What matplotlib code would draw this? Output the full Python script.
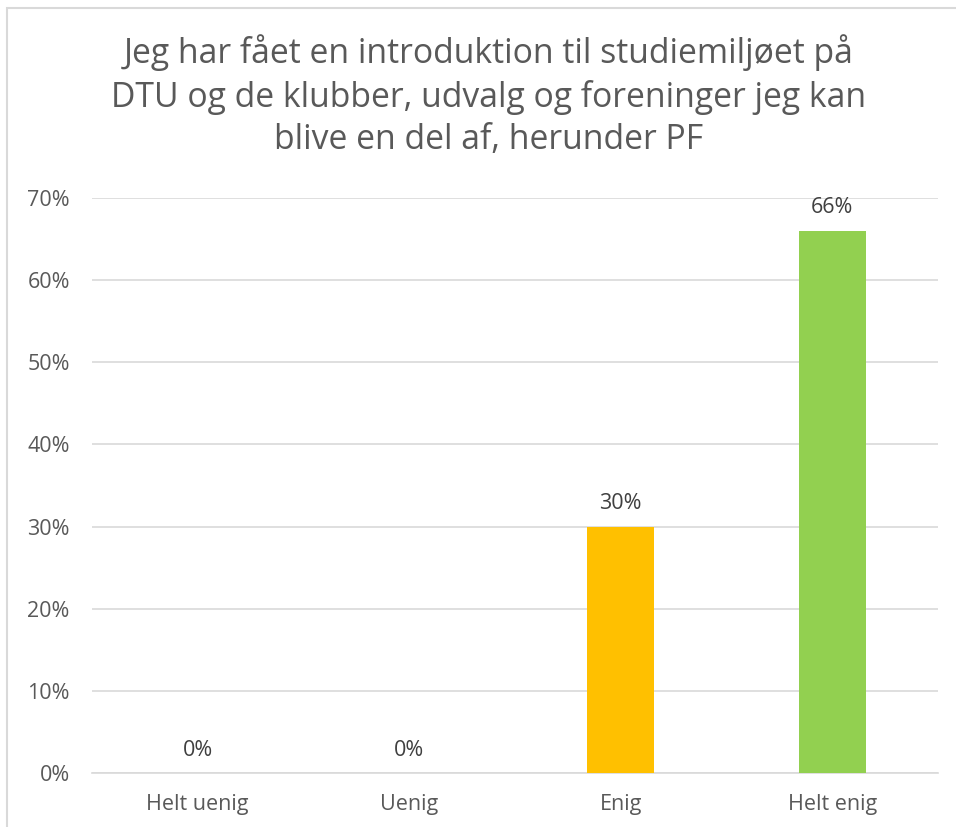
import matplotlib.pyplot as plt
import matplotlib.patches as mpatches
from matplotlib.ticker import PercentFormatter

categories = ['Helt uenig', 'Uenig', 'Enig', 'Helt enig']
values = [0, 0, 30, 66]
bar_colors = ['#C00000', '#ED7D31', '#FFC000', '#92D050']
title = 'Jeg har fået en introduktion til studiemiljøet på\nDTU og de klubber, udvalg og foreninger jeg kan\nblive en del af, herunder PF'

text_color = '#595959'
plt.rcParams['font.family'] = ['Open Sans', 'DejaVu Sans']

fig = plt.figure(figsize=(9.56, 8.27), dpi=100)
ax = fig.add_axes([92 / 956, 1 - 773 / 827, 846 / 956, 575 / 827])

# chart border (cropped at right/bottom in the reference)
fig.patches.append(mpatches.Rectangle((7 / 956, -0.1), 1.2, 1 - 8 / 827 + 0.1,
                                      transform=fig.transFigure, fill=False,
                                      edgecolor='#D9D9D9', linewidth=1.5))

x = range(len(categories))
bars = ax.bar(x, values, width=0.317, color=bar_colors, zorder=3)
for xi, v in zip(x, values):
    ax.annotate(f'{v}%', xy=(xi, v), xytext=(0, 9), textcoords='offset points',
                ha='center', va='bottom', fontsize=15.5, color='#404040')

ax.set_xlim(-0.5, 3.5)
ax.set_ylim(0, 70)
ax.set_yticks(range(0, 71, 10))
ax.yaxis.set_major_formatter(PercentFormatter(decimals=0))
ax.set_xticks(list(x))
ax.set_xticklabels(categories)
ax.tick_params(axis='both', length=0, labelsize=15.5, labelcolor=text_color)
ax.tick_params(axis='x', pad=15)
ax.tick_params(axis='y', pad=16)
ax.grid(axis='y', color='#D9D9D9', linewidth=1.2, zorder=0)
ax.spines[['left', 'top', 'right']].set_visible(False)
ax.spines['bottom'].set_color('#D9D9D9')
ax.spines['bottom'].set_linewidth(1.2)

fig.text(489 / 956, 1 - 96 / 827, title, ha='center', va='center', fontsize=24.3,
         color=text_color, linespacing=1.32)

plt.savefig('out.png')
